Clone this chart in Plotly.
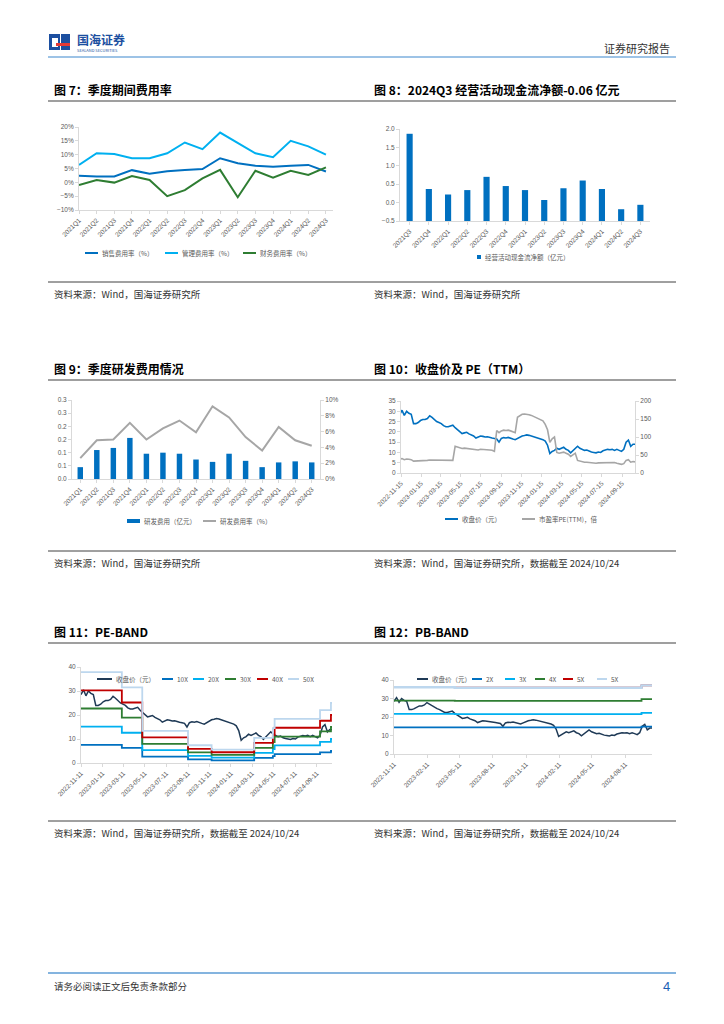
import plotly.graph_objects as go
import pandas as pd

W, H = 724, 1024
def X(p): return p / W
def Y(p): return 1 - p / H

# ---------------- data ----------------
quarters_15 = ["2021Q1","2021Q2","2021Q3","2021Q4","2022Q1","2022Q2","2022Q3","2022Q4",
               "2023Q1","2023Q2","2023Q3","2023Q4","2024Q1","2024Q2","2024Q3"]
sales_rate = [2.4,2.1,2.1,4.4,3.1,4.0,4.5,4.8,8.7,6.9,6.0,5.6,6.0,6.3,3.9]
mgmt_rate = [6.3,10.5,10.2,8.7,8.7,10.5,14.4,12.0,18.0,14.2,10.5,9.1,15.0,13.0,10.0]
fin_rate = [-1.0,0.85,-0.1,2.3,0.85,-5.0,-2.8,1.45,4.5,-5.4,4.2,1.7,4.2,2.7,5.4]

quarters_13 = ["2021Q3","2021Q4","2022Q1","2022Q2","2022Q3","2022Q4","2023Q1","2023Q2",
               "2023Q3","2023Q4","2024Q1","2024Q2","2024Q3"]
op_cashflow = [1.87,0.37,0.22,0.34,0.70,0.45,0.34,0.07,0.39,0.60,0.37,-0.18,-0.06]
ocf_axis_min = -0.5

rd_expense = [0.045,0.110,0.118,0.156,0.096,0.100,0.096,0.074,0.065,0.096,0.069,0.045,0.063,0.067,0.063]
rd_rate = [2.65,4.9,5.0,7.1,5.0,6.4,7.4,5.9,9.2,7.8,5.3,3.6,6.6,4.9,4.2]
rd_left_ticks = [0,0.05,0.10,0.15,0.20,0.25,0.30]
rd_left_text = ["0.0","0.1","0.1","0.2","0.2","0.3","0.3"]

week_dates = [d.strftime("%Y-%m-%d") for d in pd.date_range("2022-11-11", "2024-10-18", freq="7D")] + ["2024-10-24"]
close_price = [28.5,30.5,28.0,30.0,29.0,28.5,24.0,24.0,24.5,25.5,26.0,26.0,26.5,27.8,27.0,26.0,
               25.0,24.5,24.0,23.0,22.5,22.5,22.8,23.2,22.0,21.0,20.0,19.2,19.5,19.8,19.0,18.5,
               18.0,17.0,17.5,18.0,17.8,17.5,17.6,17.2,17.0,16.8,16.5,15.0,16.8,17.2,17.0,17.3,
               16.8,16.5,16.2,16.8,17.5,18.0,18.2,18.5,18.3,18.0,17.5,17.2,17.0,16.5,16.2,15.5,
               13.5,9.5,10.5,11.0,12.0,11.5,12.0,12.5,11.5,11.0,9.8,11.0,12.0,13.0,12.0,11.5,
               11.0,11.2,10.5,10.2,10.0,9.8,10.2,10.0,10.8,11.2,11.5,11.3,11.5,11.0,11.5,11.0,
               10.5,11.5,15.0,16.0,13.0,14.0,14.0]
pe_ttm = [38,40,37,39,38,37,33,33,33,34,35,35,35,36,36,35,34,34,35,34,34,34,34,35,
          74,72,70,68,69,68,67,66,65,63,64,66,66,65,65,64,63,60,
          118,112,117,119,118,119,117,115,112,
          155,160,163,164,164,162,160,157,155,153,150,145,135,120,85,95,100,
          57,55,57,58,55,52,46,50,55,
          35,33,31,30,30,29,28,28,27,28,28,29,30,30,30,30,29,27,25,24,26,35,37,30,32,31]

pe_step_dates = ["2022-11-11","2023-03-07","2023-05-04","2023-09-11","2023-11-17","2024-03-17",
                 "2024-05-09","2024-05-14","2024-09-20","2024-10-21","2024-10-24"]
pe_band_eps = [0.757,0.63,0.267,0.148,0.112,0.21,0.29,0.367,0.44,0.50,0.50]
pe_multiples = [10,20,30,40,50]
pe_labels = ["10X","20X","30X","40X","50X"]

pb_step_dates = ["2022-11-11","2023-04-28","2024-09-25","2024-10-24"]
pb_band_bps = [7.22,7.17,7.42,7.42]
pb_multiples = [2,3,4,5,5]
pb_labels = ["2X","3X","4X","5X","5X"]

ticks_c10 = ["2022-11-15","2023-01-15","2023-03-15","2023-05-15","2023-07-15","2023-09-15",
             "2023-11-15","2024-01-15","2024-03-15","2024-05-15","2024-07-15","2024-09-15"]
ticks_c11 = ["2022-11-11","2023-01-11","2023-03-11","2023-05-11","2023-07-11","2023-09-11",
             "2023-11-11","2024-01-11","2024-03-11","2024-05-11","2024-07-11","2024-09-11"]
ticks_c12 = ["2022-11-11","2023-02-11","2023-05-11","2023-08-11","2023-11-11","2024-02-11",
             "2024-05-11","2024-08-11"]

# ---------------- styles ----------------
C_BLUE = "#0070c0"
C_CYAN = "#00b0f0"
C_GREEN = "#2e7d32"
C_GRAY = "#a6a6a6"
C_RED = "#c00000"
C_PALE = "#bdd7ee"
C_NAVY = "#1f3a56"
TICKF = dict(family="Liberation Sans, Arial, Noto Sans CJK SC", size=6.5, color="#595959")
AX = dict(showgrid=False, zeroline=False, showline=True, linecolor="#d9d9d9", linewidth=1,
          ticks="outside", ticklen=3, tickcolor="#d9d9d9", tickfont=TICKF, automargin=False)

fig = go.Figure()

# Chart 7
for vals, col, nm in [(sales_rate, C_BLUE, "销售费用率"), (mgmt_rate, C_CYAN, "管理费用率"), (fin_rate, C_GREEN, "财务费用率")]:
    fig.add_trace(go.Scatter(x=quarters_15, y=vals, mode="lines", line=dict(color=col, width=2),
                             xaxis="x", yaxis="y", showlegend=False, name=nm))
# Chart 8
fig.add_trace(go.Bar(x=quarters_13, y=[v - ocf_axis_min for v in op_cashflow], base=ocf_axis_min,
                     marker=dict(color=C_BLUE, line=dict(width=0)), width=0.32,
                     xaxis="x2", yaxis="y2", showlegend=False))
# Chart 9
fig.add_trace(go.Bar(x=quarters_15, y=rd_expense, marker=dict(color=C_BLUE, line=dict(width=0)), width=0.33,
                     xaxis="x3", yaxis="y3", showlegend=False))
fig.add_trace(go.Scatter(x=quarters_15, y=rd_rate, mode="lines", line=dict(color=C_GRAY, width=2),
                         xaxis="x3", yaxis="y4", showlegend=False))
# Chart 10
fig.add_trace(go.Scatter(x=week_dates, y=close_price, mode="lines", line=dict(color=C_BLUE, width=1.6),
                         xaxis="x4", yaxis="y5", showlegend=False))
fig.add_trace(go.Scatter(x=week_dates, y=pe_ttm, mode="lines", line=dict(color=C_GRAY, width=1.6),
                         xaxis="x4", yaxis="y6", showlegend=False))
# Chart 11
fig.add_trace(go.Scatter(x=week_dates, y=close_price, mode="lines", line=dict(color=C_NAVY, width=1.5),
                         xaxis="x5", yaxis="y7", showlegend=False))
band_cols = [C_BLUE, C_CYAN, C_GREEN, C_RED, C_PALE]
band_widths = [1.8, 1.8, 1.8, 1.8, 2.4]
for m, col, wd in zip(pe_multiples, band_cols, band_widths):
    fig.add_trace(go.Scatter(x=pe_step_dates, y=[e * m for e in pe_band_eps], mode="lines",
                             line=dict(color=col, width=1.8, shape="hv"),
                             xaxis="x5", yaxis="y7", showlegend=False))
# Chart 12
fig.add_trace(go.Scatter(x=week_dates, y=close_price, mode="lines", line=dict(color=C_NAVY, width=1.5),
                         xaxis="x6", yaxis="y8", showlegend=False))
for m, col, wd in zip(pb_multiples, band_cols, band_widths):
    fig.add_trace(go.Scatter(x=pb_step_dates, y=[b * m for b in pb_band_bps], mode="lines",
                             line=dict(color=col, width=wd, shape="hv"),
                             xaxis="x6", yaxis="y8", showlegend=False))

def dom(a, b): return [X(a), X(b)]
def vdom(top, bot): return [Y(bot), Y(top)]

layout = dict(
    width=W, height=H, autosize=False, margin=dict(l=0, r=0, t=0, b=0),
    paper_bgcolor="white", plot_bgcolor="white",
    font=dict(family="Noto Sans CJK SC, Liberation Sans"),
    xaxis=dict(AX, domain=dom(79, 333), anchor="y", type="category", range=[0, 14.4], tickangle=-45),
    yaxis=dict(AX, domain=vdom(127, 210), anchor="x", range=[-10, 20], dtick=5, ticksuffix="%"),
    xaxis2=dict(AX, domain=dom(400, 650), anchor="y2", type="category", range=[-0.5, 12.5], tickangle=-45),
    yaxis2=dict(AX, domain=vdom(129, 221), anchor="x2", range=[-0.5, 2.0], dtick=0.5, tickformat=".1f"),
    xaxis3=dict(AX, domain=dom(72, 320), anchor="y3", type="category", range=[-0.5, 14.5], tickangle=-45),
    yaxis3=dict(AX, domain=vdom(400, 479), anchor="x3", range=[0, 0.30], tickvals=rd_left_ticks, ticktext=rd_left_text),
    yaxis4=dict(AX, overlaying="y3", anchor="x3", side="right", range=[0, 10], dtick=2, ticksuffix="%"),
    xaxis4=dict(AX, domain=dom(401, 635), anchor="y5", type="date", range=["2022-11-15", "2024-10-24"],
                tickvals=ticks_c10, ticktext=ticks_c10, tickangle=-45),
    yaxis5=dict(AX, domain=vdom(401, 473), anchor="x4", range=[0, 35], dtick=5),
    yaxis6=dict(AX, overlaying="y5", anchor="x4", side="right", range=[0, 200], dtick=50),
    xaxis5=dict(AX, domain=dom(81, 332), anchor="y7", type="date", range=["2022-11-11", "2024-10-24"],
                tickvals=ticks_c11, ticktext=ticks_c11, tickangle=-45),
    yaxis7=dict(AX, domain=vdom(667, 763), anchor="x5", range=[0, 40], dtick=10),
    xaxis6=dict(AX, domain=dom(394, 652), anchor="y8", type="date", range=["2022-11-11", "2024-10-24"],
                tickvals=ticks_c12, ticktext=ticks_c12, tickangle=-45),
    yaxis8=dict(AX, domain=vdom(680, 754), anchor="x6", range=[0, 40], dtick=10),
)
fig.update_layout(**layout)

shapes, ann = [], []

def hline(x0, x1, y, color, width):
    shapes.append(dict(type="line", xref="paper", yref="paper", x0=X(x0), x1=X(x1), y0=Y(y), y1=Y(y),
                       line=dict(color=color, width=width)))

def text(x, y, s, size, color="#000000", bold=False, anchor="left", family="Noto Sans CJK SC, Liberation Sans"):
    ann.append(dict(text=("<b>%s</b>" % s) if bold else s, x=X(x), y=Y(y), xref="paper", yref="paper",
                    xanchor=anchor, yanchor="middle", showarrow=False,
                    font=dict(family=family, size=size, color=color)))

def leg_line(x0, y, color, s, length=13, width=2):
    hline(x0, x0 + length, y, color, width)
    text(x0 + length + 2, y, s, 6.5, "#595959")

def leg_box(x0, y, color, s, w=5, h=5):
    shapes.append(dict(type="rect", xref="paper", yref="paper", x0=X(x0), x1=X(x0 + w), y0=Y(y + h / 2), y1=Y(y - h / 2),
                       fillcolor=color, line=dict(width=0)))
    text(x0 + w + 2, y, s, 6.5, "#595959")

# header
shapes.append(dict(type="rect", xref="paper", yref="paper", x0=X(49), x1=X(60), y0=Y(50), y1=Y(34), fillcolor="#1c4fa0", line=dict(width=0)))
shapes.append(dict(type="rect", xref="paper", yref="paper", x0=X(61), x1=X(70), y0=Y(50), y1=Y(34), fillcolor="#1c4fa0", line=dict(width=0)))
shapes.append(dict(type="rect", xref="paper", yref="paper", x0=X(52), x1=X(58), y0=Y(47), y1=Y(38), fillcolor="white", line=dict(width=0)))
shapes.append(dict(type="rect", xref="paper", yref="paper", x0=X(56), x1=X(70), y0=Y(46), y1=Y(43), fillcolor="#e53935", line=dict(width=0)))
text(75, 39, "国海证券", 12, "#1c4fa0", bold=True)
text(75, 50, "SEALAND SECURITIES", 4, "#1c4fa0")
text(672, 48, "证券研究报告", 11, "#333333", anchor="right")
hline(48, 676, 57, "#9dc3e6", 2)

# titles
for (x, y, s) in [(52, 89, "图 7：季度期间费用率"), (372, 89, "图 8：2024Q3 经营活动现金流净额-0.06 亿元"),
                  (52, 368, "图 9：季度研发费用情况"), (372, 368, "图 10：收盘价及 PE（TTM）"),
                  (52, 631, "图 11：PE-BAND"), (372, 631, "图 12：PB-BAND")]:
    text(x, y, s, 12, "#000000", bold=True)
for y in [101, 380, 643]:
    hline(48, 676, y, "#404040", 1.2)

# sources
for y in [282, 551, 821]:
    hline(48, 676, y, "#404040", 1)
SRC = "资料来源：Wind，国海证券研究所"
text(52, 294, SRC, 9.5, "#333333")
text(372, 294, SRC, 9.5, "#333333")
text(52, 563, SRC, 9.5, "#333333")
text(372, 563, SRC + "，数据截至 2024/10/24", 9.5, "#333333")
text(52, 833, SRC + "，数据截至 2024/10/24", 9.5, "#333333")
text(372, 833, SRC + "，数据截至 2024/10/24", 9.5, "#333333")

# legends
leg_line(85, 253, C_BLUE, "销售费用率（%）")
leg_line(165, 253, C_CYAN, "管理费用率（%）")
leg_line(243, 253, C_GREEN, "财务费用率（%）")
leg_box(477, 257, C_BLUE, "经营活动现金流净额（亿元）", w=4, h=4)
leg_box(127, 521, C_BLUE, "研发费用（亿元）", w=13, h=4)
leg_line(203, 521, C_GRAY, "研发费用率（%）")
leg_line(445, 519, C_BLUE, "收盘价（元）")
leg_line(522, 519, C_GRAY, "市盈率PE(TTM)，倍")
leg_line(97, 679, C_NAVY, "收盘价（元）", length=15)
for x0, col, lab in zip([162, 193, 225, 257, 288], band_cols, pe_labels):
    leg_line(x0, 679, col, lab, length=11)
leg_line(417, 679, C_NAVY, "收盘价（元）", length=11)
for x0, col, lab in zip([472, 505, 535, 563, 597], band_cols, pb_labels):
    leg_line(x0, 679, col, lab, length=10)

# footer
hline(48, 676, 973, "#5b9bd5", 1.5)
text(52, 986, "请务必阅读正文后免责条款部分", 9.5, "#333333")
text(672, 986, "4", 13, "#1a5fb4", anchor="right", family="Liberation Sans")

fig.update_layout(shapes=shapes, annotations=ann)
fig.write_html("out.html", config={"displayModeBar": False},
               post_script="document.body.style.margin='0';document.body.style.overflow='hidden';")
